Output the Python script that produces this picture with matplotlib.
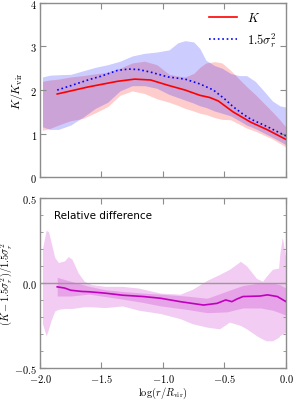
import matplotlib
matplotlib.use("Agg")
import matplotlib.pyplot as plt
from matplotlib.ticker import FuncFormatter, MultipleLocator

plt.rcParams['mathtext.fontset'] = 'cm'

# ---------------- data (top panel) ----------------
x_band = [-1.98, -1.92, -1.85, -1.75, -1.65, -1.55, -1.45, -1.35, -1.25, -1.15, -1.05, -0.95,
          -0.88, -0.82, -0.75, -0.70, -0.65, -0.58, -0.52, -0.45, -0.38, -0.32, -0.25, -0.18,
          -0.11, -0.05, 0.0]
sig_hi = [2.30, 2.34, 2.35, 2.36, 2.44, 2.52, 2.58, 2.66, 2.78, 2.84, 2.87, 2.92,
          3.08, 3.13, 3.10, 2.95, 2.68, 2.56, 2.50, 2.38, 2.33, 2.33, 2.20, 1.98,
          1.75, 1.64, 1.61]
sig_lo = [1.16, 1.10, 1.10, 1.20, 1.38, 1.58, 1.72, 1.98, 2.10, 2.10, 2.04, 1.90,
          1.83, 1.77, 1.70, 1.64, 1.60, 1.52, 1.47, 1.41, 1.30, 1.20, 1.12, 1.02,
          0.92, 0.83, 0.75]
k_hi = [2.20, 2.23, 2.25, 2.30, 2.33, 2.37, 2.41, 2.50, 2.62, 2.66, 2.58, 2.36,
        2.32, 2.30, 2.38, 2.52, 2.62, 2.65, 2.62, 2.45, 2.25, 2.08, 1.90, 1.70,
        1.50, 1.32, 1.15]
k_lo = [1.08, 1.12, 1.20, 1.30, 1.35, 1.48, 1.62, 1.88, 1.98, 1.92, 1.80, 1.72,
        1.65, 1.58, 1.52, 1.47, 1.44, 1.37, 1.33, 1.32, 1.22, 1.13, 1.06, 0.97,
        0.88, 0.78, 0.70]

x_k = [-1.86, -1.75, -1.61, -1.50, -1.37, -1.23, -1.10, -0.96, -0.82, -0.70, -0.62,
       -0.55, -0.43, -0.29, -0.15, 0.0]
k_med = [1.91, 1.98, 2.07, 2.13, 2.20, 2.25, 2.23, 2.11, 2.00, 1.88, 1.83,
         1.75, 1.50, 1.27, 1.09, 0.87]

x_sig = [-1.86, -1.75, -1.60, -1.50, -1.37, -1.28, -1.20, -1.10, -0.96, -0.82, -0.70,
         -0.59, -0.50, -0.43, -0.35, -0.29, -0.15, 0.0]
sig_med = [2.00, 2.10, 2.24, 2.32, 2.45, 2.48, 2.47, 2.41, 2.30, 2.25, 2.14,
           2.00, 1.80, 1.62, 1.45, 1.34, 1.16, 0.95]

# ---------------- data (bottom panel) ----------------
x_outer = [-1.98, -1.95, -1.93, -1.91, -1.88, -1.85, -1.80, -1.77, -1.74, -1.69, -1.64,
           -1.58, -1.47, -1.33, -1.20, -1.02, -0.86, -0.76, -0.64, -0.54, -0.46, -0.37,
           -0.32, -0.24, -0.19, -0.16, -0.11, -0.06, -0.05, -0.03, 0.0]
rel_outer_hi = [0.20, 0.31, 0.30, 0.24, 0.15, 0.12, 0.13, 0.155, 0.14, 0.06, 0.01,
                -0.01, -0.02, -0.02, -0.03, -0.06, -0.066, -0.037, 0.016, 0.05, 0.08, 0.127,
                0.10, 0.027, 0.01, 0.039, 0.08, 0.087, 0.17, 0.27, 0.14]
rel_outer_lo = [-0.24, -0.31, -0.27, -0.22, -0.165, -0.155, -0.15, -0.15, -0.15, -0.145, -0.14,
                -0.14, -0.145, -0.135, -0.16, -0.18, -0.21, -0.24, -0.26, -0.27, -0.23, -0.25,
                -0.27, -0.31, -0.33, -0.34, -0.34, -0.32, -0.31, -0.30, -0.29]

x_inner = [-1.86, -1.80, -1.75, -1.66, -1.60, -1.47, -1.33, -1.16, -1.02, -0.81, -0.64,
           -0.48, -0.35, -0.21, -0.11, -0.05, 0.0]
rel_inner_hi = [0.033, 0.02, 0.01, -0.008, -0.02, -0.04, -0.05, -0.06, -0.066, -0.077, -0.09,
                -0.048, -0.015, 0.0, 0.0, -0.01, -0.03]
rel_inner_lo = [-0.077, -0.077, -0.077, -0.07, -0.066, -0.08, -0.095, -0.115, -0.135, -0.155, -0.175,
                -0.17, -0.147, -0.147, -0.16, -0.175, -0.19]

x_rel = [-1.86, -1.80, -1.75, -1.66, -1.60, -1.47, -1.33, -1.16, -1.02, -0.86, -0.67,
         -0.56, -0.49, -0.44, -0.40, -0.35, -0.21, -0.15, -0.07, 0.0]
rel_med = [-0.023, -0.03, -0.043, -0.05, -0.052, -0.06, -0.072, -0.08, -0.09, -0.11, -0.13,
           -0.12, -0.10, -0.11, -0.095, -0.08, -0.077, -0.07, -0.08, -0.11]

# ---------------- figure ----------------
fig = plt.figure(figsize=(2.93, 4.02), dpi=100)
ax1 = fig.add_axes([0.1365, 0.5560, 0.8395, 0.4350])
ax2 = fig.add_axes([0.1365, 0.0821, 0.8395, 0.4232])

spine_col = '#8c8c8c'
for ax in (ax1, ax2):
    for s in ax.spines.values():
        s.set_color(spine_col)
        s.set_linewidth(1.0)
    ax.tick_params(which='both', direction='in', top=True, right=True,
                   color=spine_col, labelsize=7.5)
    ax.tick_params(axis='y', pad=2)
    ax.tick_params(axis='x', pad=3)
    ax.tick_params(which='major', length=4)
    ax.tick_params(which='minor', length=2)
    ax.set_xlim(-2.0, 0.0)
    ax.xaxis.set_major_locator(MultipleLocator(0.5))

# top panel
ax1.fill_between(x_band, k_lo, k_hi, color='red', alpha=0.2, lw=0)
ax1.fill_between(x_band, sig_lo, sig_hi, color='blue', alpha=0.2, lw=0)
ax1.plot(x_k, k_med, color='red', lw=1.2, label=r'$K$')
ax1.plot(x_sig, sig_med, color='blue', lw=1.2, ls=':', label=r'$1.5\sigma_r^2$')
ax1.set_ylim(0, 4)
ax1.yaxis.set_major_locator(MultipleLocator(1))
ax1.yaxis.set_major_formatter(FuncFormatter(lambda v, p: r'$%d$' % round(v)))
ax1.set_xticklabels([])
ax1.set_ylabel(r'$K/K_{\rm vir}$', fontsize=8.5, labelpad=4)
ax1.legend(loc='upper right', frameon=False, fontsize=9, handlelength=2.3,
           borderaxespad=0.3, labelspacing=0.5)

# bottom panel
ax2.fill_between(x_outer, rel_outer_lo, rel_outer_hi, color='m', alpha=0.2, lw=0)
ax2.fill_between(x_inner, rel_inner_lo, rel_inner_hi, color='m', alpha=0.2, lw=0)
ax2.axhline(0.0, color='#999999', lw=1.0)
ax2.plot(x_rel, rel_med, color='m', lw=1.2)
ax2.set_ylim(-0.5, 0.5)
ax2.yaxis.set_major_locator(MultipleLocator(0.5))
ax2.yaxis.set_minor_locator(MultipleLocator(0.1))
fmt = FuncFormatter(lambda v, p: r'$%.1f$' % v)
ax2.yaxis.set_major_formatter(fmt)
ax2.xaxis.set_major_formatter(fmt)
ax2.set_ylabel(r'$(K-1.5\sigma_r^2)/1.5\sigma_r^2$', fontsize=7.5, labelpad=0)
ax2.set_xlabel(r'$\log(r/R_{\rm vir})$', fontsize=7.5, labelpad=0.2)
ax2.text(0.055, 0.93, 'Relative difference', transform=ax2.transAxes,
         fontsize=7.5, family='DejaVu Sans', va='top', ha='left')

fig.savefig('out.png', dpi=100)
